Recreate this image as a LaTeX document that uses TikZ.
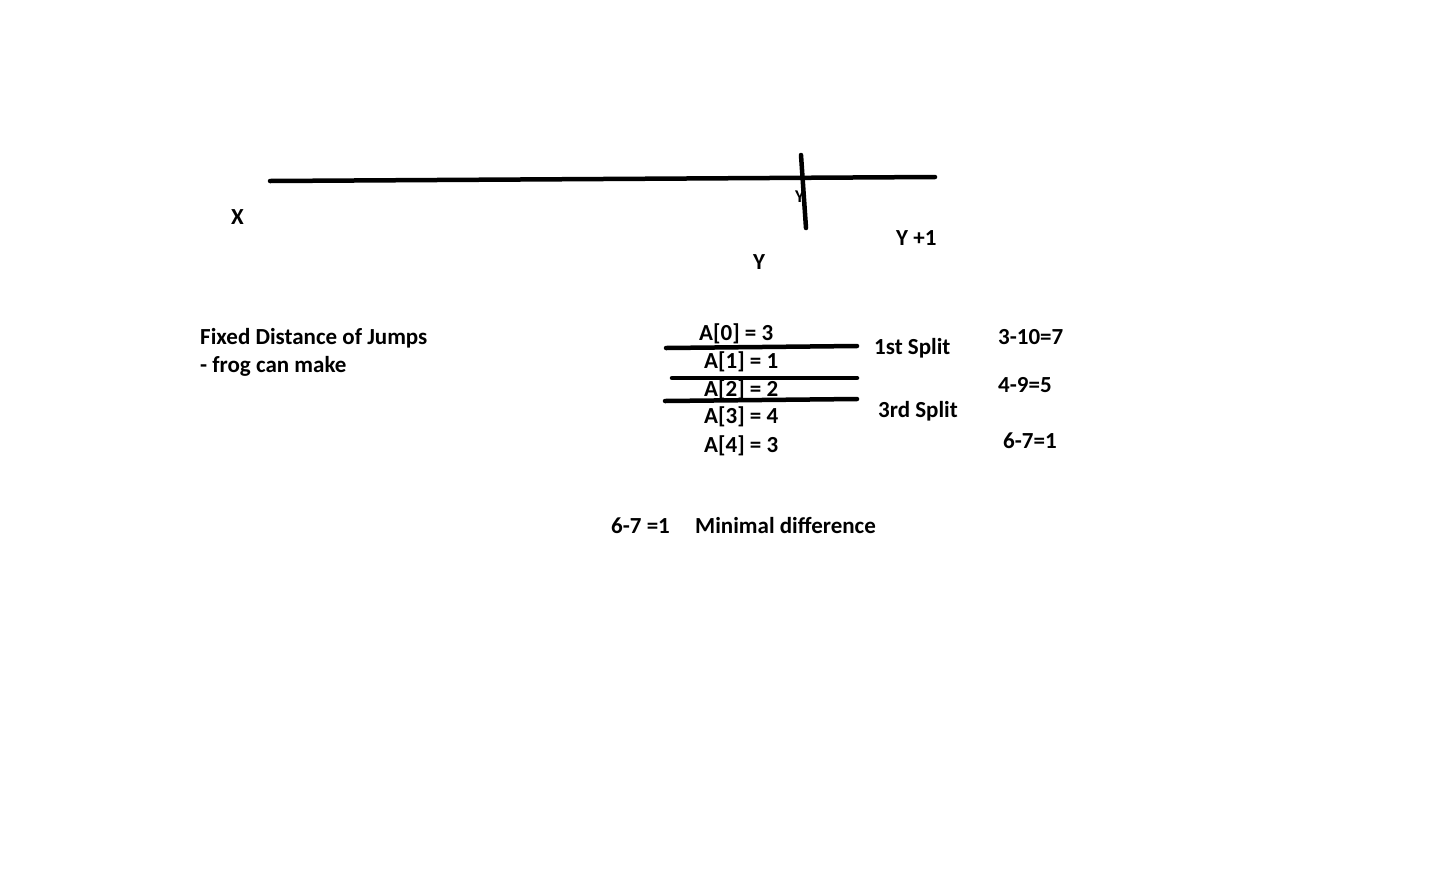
\documentclass[tikz,border=0pt]{standalone}
\usepackage{fontspec}
\setmainfont{Carlito}
\begin{document}
\begin{tikzpicture}[x=1pt,y=-1pt,
    pen/.style={line width=4.5pt, line cap=round},
    txt/.style={inner sep=0pt, anchor=west, text height=18pt, text depth=3.2pt,
      font=\fontsize{23}{27}\selectfont\bfseries}]
    \useasboundingbox (0,0) rectangle (1450,868);

    % Linea de saltos
    \coordinate (xstart) at (270,181);
    \coordinate (xend) at (935,177);
    \coordinate (ytop) at (801,155);
    \coordinate (ybot) at (806,228);
    \draw[pen] (xstart) -- (xend);
    \draw[pen] (ytop) -- (ybot);
    \node[txt, text height=14pt, text depth=2.4pt, font=\fontsize{18}{21}\selectfont\bfseries] (ysmall) at (795,197) {Y};
    \node[txt] (xlab) at (231,217) {X};
    \node[txt] (ylab) at (753,262) {Y};
    \node[txt] (y1lab) at (896,238) {Y +1};

    % Texto
    \node[txt] (fixed) at (200,337) {Fixed Distance of Jumps};
    \node[txt] (frog) at (200,365) {- frog can make};

    % Arreglo
    \node[txt] (a0) at (699,333) {A[0] = 3};
    \node[txt] (a1) at (704,361) {A[1] = 1};
    \node[txt] (a2) at (704,389) {A[2] = 2};
    \node[txt] (a3) at (704,416) {A[3] = 4};
    \node[txt] (a4) at (704,445) {A[4] = 3};

    % Cortes
    \coordinate (s1l) at (666,348);
    \coordinate (s1r) at (857,346);
    \coordinate (s2l) at (672,378);
    \coordinate (s2r) at (857,378);
    \coordinate (s3l) at (665,401);
    \coordinate (s3r) at (857,399);
    \draw[pen] (s1l) -- (s1r);
    \draw[pen] (s2l) -- (s2r);
    \draw[pen] (s3l) -- (s3r);
    \node[txt] (split1) at (874,347) {1st Split};
    \node[txt] (split3) at (878,410) {3rd Split};

    % Diferencias
    \node[txt] (d1) at (998,337) {3-10=7};
    \node[txt] (d2) at (998,385) {4-9=5};
    \node[txt] (d3) at (1003,441) {6-7=1};
    \node[txt] (res) at (611,526) {6-7 =1};
    \node[txt] (minim) at (695,526) {Minimal difference};
\end{tikzpicture}
\end{document}
